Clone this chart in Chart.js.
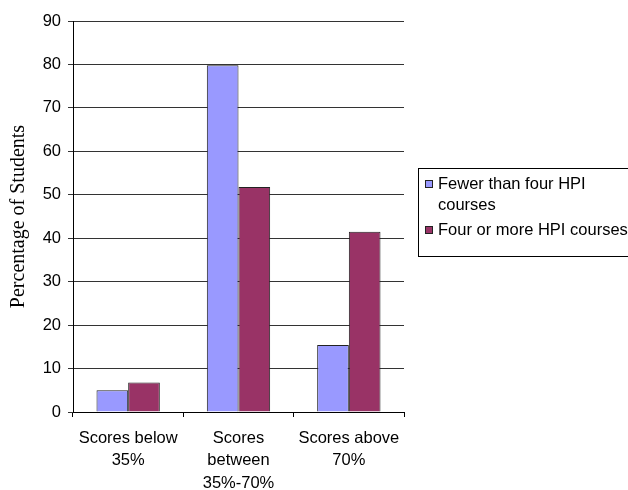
<!DOCTYPE html>
<html>
<head>
<meta charset="utf-8">
<script src="https://cdn.jsdelivr.net/npm/chart.js@4/dist/chart.umd.min.js"></script>
<style>
  html, body { margin: 0; padding: 0; background: #fff; }
  #wrap { width: 628px; height: 490px; position: relative; }
</style>
</head>
<body>
<div id="wrap"><canvas id="c" width="628" height="490"></canvas></div>
<script>
// Score bands (multi-line category labels)
const categories = [
  ['Scores below', '35%'],
  ['Scores', 'between', '35%-70%'],
  ['Scores above', '70%']
];
// Percentage of students in each band
const fewerThanFour = [5.0, 79.8, 15.4];
const fourOrMore = [6.8, 51.8, 41.5];
const seriesNames = ['Fewer than four HPI courses', 'Four or more HPI courses'];
const yTicks = { min: 0, max: 90, step: 10 };
const yTitle = 'Percentage of Students';

const SANS = '"Liberation Sans", Arial, sans-serif';
const SERIF = '"Liberation Serif", "Times New Roman", serif';

// Boxed legend on the right, with wrapping labels
const boxLegend = {
  id: 'boxLegend',
  afterDraw(chart) {
    const ctx = chart.ctx;
    const bx = 418.5, by = 168.5, bw = 240, bh = 88;
    ctx.save();
    ctx.strokeStyle = '#000';
    ctx.lineWidth = 1;
    ctx.strokeRect(bx, by, bw, bh);
    ctx.font = '16.5px ' + SANS;
    ctx.fillStyle = '#000';
    ctx.textBaseline = 'middle';
    const textX = 438;
    const maxW = chart.width - textX;
    const lineH = 21.5;
    let y = 184;
    chart.data.datasets.forEach(ds => {
      // wrap label words to the available width
      const words = ds.label.split(' ');
      const lines = [];
      let cur = '';
      words.forEach(w => {
        const t = cur ? cur + ' ' + w : w;
        if (ctx.measureText(t).width > maxW && cur) { lines.push(cur); cur = w; }
        else cur = t;
      });
      if (cur) lines.push(cur);
      ctx.fillStyle = ds.backgroundColor;
      ctx.fillRect(425, y - 4, 8, 8);
      ctx.strokeStyle = '#222';
      ctx.strokeRect(425.5, y - 3.5, 7, 7);
      ctx.fillStyle = '#000';
      lines.forEach((ln, i) => ctx.fillText(ln, textX, y + i * lineH));
      y += lines.length * lineH + 3;
    });
    ctx.restore();
  }
};

new Chart(document.getElementById('c'), {
  type: 'bar',
  data: {
    labels: categories,
    datasets: [
      { label: seriesNames[0], data: fewerThanFour, backgroundColor: '#9999FF', borderColor: '#222', borderWidth: 1 },
      { label: seriesNames[1], data: fourOrMore, backgroundColor: '#993366', borderColor: '#222', borderWidth: 1 }
    ]
  },
  options: {
    responsive: false,
    animation: false,
    devicePixelRatio: 1,
    categoryPercentage: 0.574,
    barPercentage: 1.0,
    layout: { padding: { top: 21, right: 224, bottom: 0, left: 0 } },
    plugins: {
      legend: { display: false },
      tooltip: { enabled: false }
    },
    scales: {
      x: {
        offset: true,
        grid: { drawOnChartArea: false, drawTicks: true, tickLength: 5, color: '#000' },
        border: { color: '#000', width: 1 },
        ticks: {
          color: '#000',
          font: { family: SANS, size: 16.5, lineHeight: 1.36 },
          padding: 10,
          maxRotation: 0,
          autoSkip: false
        },
        afterFit(scale) { scale.height = 78; }
      },
      y: {
        min: yTicks.min,
        max: yTicks.max,
        ticks: {
          stepSize: yTicks.step,
          color: '#000',
          font: { family: SANS, size: 16.5 },
          padding: 7
        },
        grid: { color: '#333', tickLength: 5, drawTicks: true },
        border: { color: '#000', width: 1 },
        title: {
          display: true,
          text: yTitle,
          color: '#000',
          font: { family: SERIF, size: 20, lineHeight: 1.2 },
          padding: { top: 7, bottom: 0 }
        },
        afterFit(scale) { scale.width = 73; }
      }
    }
  },
  plugins: [boxLegend]
});
</script>
</body>
</html>
